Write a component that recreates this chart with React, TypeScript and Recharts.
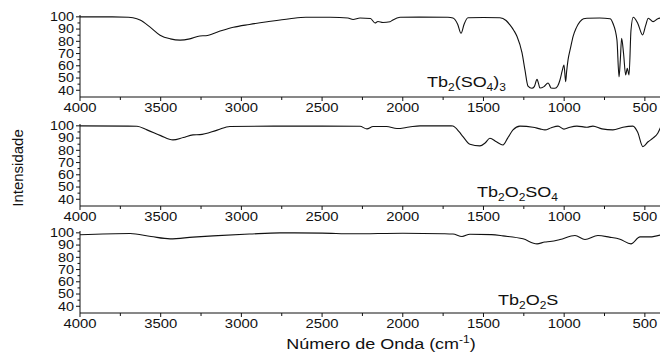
import React from 'react';
import { LineChart, Line, XAxis, YAxis } from 'recharts';

// wavenumbers (cm-1) and intensities
const sulfateWave = [
  4000, 3800, 3700, 3672, 3628, 3560, 3504, 3440, 3380, 3320, 3257, 3220, 3140, 3050, 2950,
  2840, 2700, 2600, 2450, 2340, 2308, 2265, 2200, 2172, 2154, 2123, 2079, 2061, 2017, 1900,
  1720, 1689, 1660, 1639, 1620, 1596, 1500, 1398, 1360, 1336, 1310, 1292, 1261, 1243, 1224,
  1200, 1185, 1168, 1158, 1150, 1125, 1100, 1090, 1082, 1057, 1040, 1026, 1012, 1001, 991,
  985, 976, 960, 945, 925, 902, 880, 859, 780, 716, 698, 673, 660, 652, 644, 632, 619, 609,
  598, 586, 572, 545, 514, 495, 479, 449, 420, 400,
];
const sulfateInt = [
  100, 100, 99.6, 99.2, 97.5, 91, 85, 82, 81, 82, 84.4, 84.6, 88, 91.5, 93.8,
  96, 98.5, 99.7, 99.6, 99, 97.8, 99, 98.6, 95, 96.2, 95.4, 96, 97.5, 99.6, 99.8,
  99.7, 99, 94, 86.6, 94, 99.3, 99.5, 99.3, 97, 93.4, 88.5, 83.9, 70.5, 56.6, 43.4,
  41.6, 43, 48.9, 45, 41.8, 43, 46, 44, 41.8, 41.6, 43.5, 48.4, 56, 60.7, 47,
  55, 64.8, 75, 83.9, 91, 96.1, 98.5, 98.9, 99, 98.5, 94.8, 81.2, 51, 65, 82.5, 70, 52.5, 58,
  52.5, 89, 99.7, 95, 85.2, 93, 98.9, 96.1, 98.5, 99,
];

const oxysulfateWave = [
  4000, 3700, 3647, 3585, 3500, 3424, 3360, 3300, 3257, 3150, 3071, 2800, 2500, 2265, 2222,
  2184, 2100, 2036, 1960, 1893, 1700, 1689, 1650, 1627, 1584, 1522, 1490, 1460, 1420, 1379,
  1350, 1317, 1274, 1193, 1150, 1119, 1080, 1038, 1001, 964, 921, 859, 822, 766, 698, 636,
  574, 545, 512, 480, 450, 420, 400,
];
const oxysulfateInt = [
  100, 99.8, 99.6, 96.7, 92, 88.5, 90.5, 92.6, 92.8, 96.5, 99.5, 99.8, 99.8, 99.6, 97.5,
  99.5, 99.4, 97.8, 99, 100, 100, 99.8, 95, 91.2, 85, 83.6, 86, 89.9, 87, 84.4,
  90, 96.7, 99.8, 98.9, 97.5, 96.7, 98.5, 99.8, 97.3, 98.9, 99.8, 98.9, 99.8, 97.5, 96.7, 98.9,
  99.8, 95, 83, 87, 89.9, 94, 99.5,
];

const oxysulfideWave = [
  4000, 3690, 3560, 3442, 3300, 3176, 2950, 2761, 2500, 2307, 2000, 1750, 1689, 1633, 1584,
  1450, 1379, 1255, 1168, 1120, 1088, 1026, 933, 871, 791, 720, 654, 586, 530, 468, 400,
];
const oxysulfideInt = [
  98.4, 99.4, 97, 95.1, 96.5, 97.5, 99, 100, 99.8, 99.2, 99.7, 99.3, 99, 97, 98.9,
  98.5, 97.5, 95.1, 91, 92.5, 92.9, 94.5, 97.8, 94.5, 97.8, 96.5, 94.8, 91, 96.7, 96.7, 98.4,
];

const xTicks = [4000, 3750, 3500, 3250, 3000, 2750, 2500, 2250, 2000, 1750, 1500, 1250, 1000, 750, 500];
const yTicks = [40, 45, 50, 55, 60, 65, 70, 75, 80, 85, 90, 95, 100];

const toRows = (wave: number[], val: number[]) => wave.map((w, i) => ({ w, v: val[i] }));

const FONT = '"Liberation Sans", Arial, sans-serif';
const INK = '#111';

const XTick = (props: any) => {
  const { x, y, payload } = props;
  const major = payload.value % 500 === 0;
  return (
    <g transform={`translate(${x},${y})`}>
      <line x1={0} y1={0} x2={0} y2={major ? 4 : 3} stroke={INK} />
      {major && (
        <text transform="scale(1.1,1)" y={15} textAnchor="middle" fontSize={13.5} fontFamily={FONT} fill={INK}>
          {payload.value}
        </text>
      )}
    </g>
  );
};

const YTick = (props: any) => {
  const { x, y, payload } = props;
  const major = payload.value % 10 === 0;
  return (
    <g transform={`translate(${x},${y})`}>
      <line x1={major ? -4 : -2.5} y1={0} x2={0} y2={0} stroke={INK} />
      {major && (
        <text transform="translate(-6,0) scale(1.2,1)" y={4.3} textAnchor="end" fontSize={12} fontFamily={FONT} fill={INK}>
          {payload.value}
        </text>
      )}
    </g>
  );
};

function Panel({ rows, top }: { rows: { w: number; v: number }[]; top: number }) {
  return (
    <div style={{ position: 'absolute', left: 0, top }}>
      <LineChart width={661} height={116} data={rows} margin={{ top: 10, right: 0, left: 0, bottom: 0 }}>
        <XAxis
          dataKey="w"
          type="number"
          domain={[400, 4000]}
          reversed
          ticks={xTicks}
          interval={0}
          tickSize={0}
          tickMargin={0}
          tickLine={false}
          tick={<XTick />}
          axisLine={{ stroke: INK }}
          height={24}
        />
        <YAxis
          type="number"
          domain={[34.5, 101.5]}
          ticks={yTicks}
          interval={0}
          tickSize={0}
          tickMargin={0}
          tickLine={false}
          tick={<YTick />}
          axisLine={{ stroke: INK }}
          width={80}
        />
        <Line type="monotone" dataKey="v" stroke={INK} strokeWidth={1.1} dot={false} isAnimationActive={false} />
      </LineChart>
    </div>
  );
}

const sub = (s: string) => (
  <tspan dy={4} fontSize={10}>{s}</tspan>
);

export default function App() {
  return (
    <div style={{ position: 'absolute', left: 0, top: 0, width: 660, height: 354, overflow: 'hidden', background: '#fff' }}>
      <Panel rows={toRows(sulfateWave, sulfateInt)} top={5} />
      <Panel rows={toRows(oxysulfateWave, oxysulfateInt)} top={114} />
      <Panel rows={toRows(oxysulfideWave, oxysulfideInt)} top={221} />
      <svg width={660} height={354} style={{ position: 'absolute', left: 0, top: 0, pointerEvents: 'none' }}>
        <g fontFamily={FONT} fill={INK}>
          <text transform="translate(17,168) rotate(-90)" textAnchor="middle" dominantBaseline="central" fontSize={15}>
            Intensidade
          </text>
          <g transform="translate(427,87) scale(1.2,1)">
            <text fontSize={15}>
              Tb{sub('2')}<tspan dy={-4}>(SO</tspan>{sub('4')}<tspan dy={-4}>)</tspan>{sub('3')}
            </text>
          </g>
          <g transform="translate(477,197) scale(1.2,1)">
            <text fontSize={15}>
              Tb{sub('2')}<tspan dy={-4}>O</tspan>{sub('2')}<tspan dy={-4}>SO</tspan>{sub('4')}
            </text>
          </g>
          <g transform="translate(498,305) scale(1.2,1)">
            <text fontSize={15}>
              Tb{sub('2')}<tspan dy={-4}>O</tspan>{sub('2')}<tspan dy={-4}>S</tspan>
            </text>
          </g>
          <g transform="translate(381,349) scale(1.2,1)">
            <text fontSize={15} textAnchor="middle">
              Número de Onda (cm<tspan dy={-6} fontSize={10}>-1</tspan><tspan dy={6}>)</tspan>
            </text>
          </g>
        </g>
      </svg>
    </div>
  );
}
